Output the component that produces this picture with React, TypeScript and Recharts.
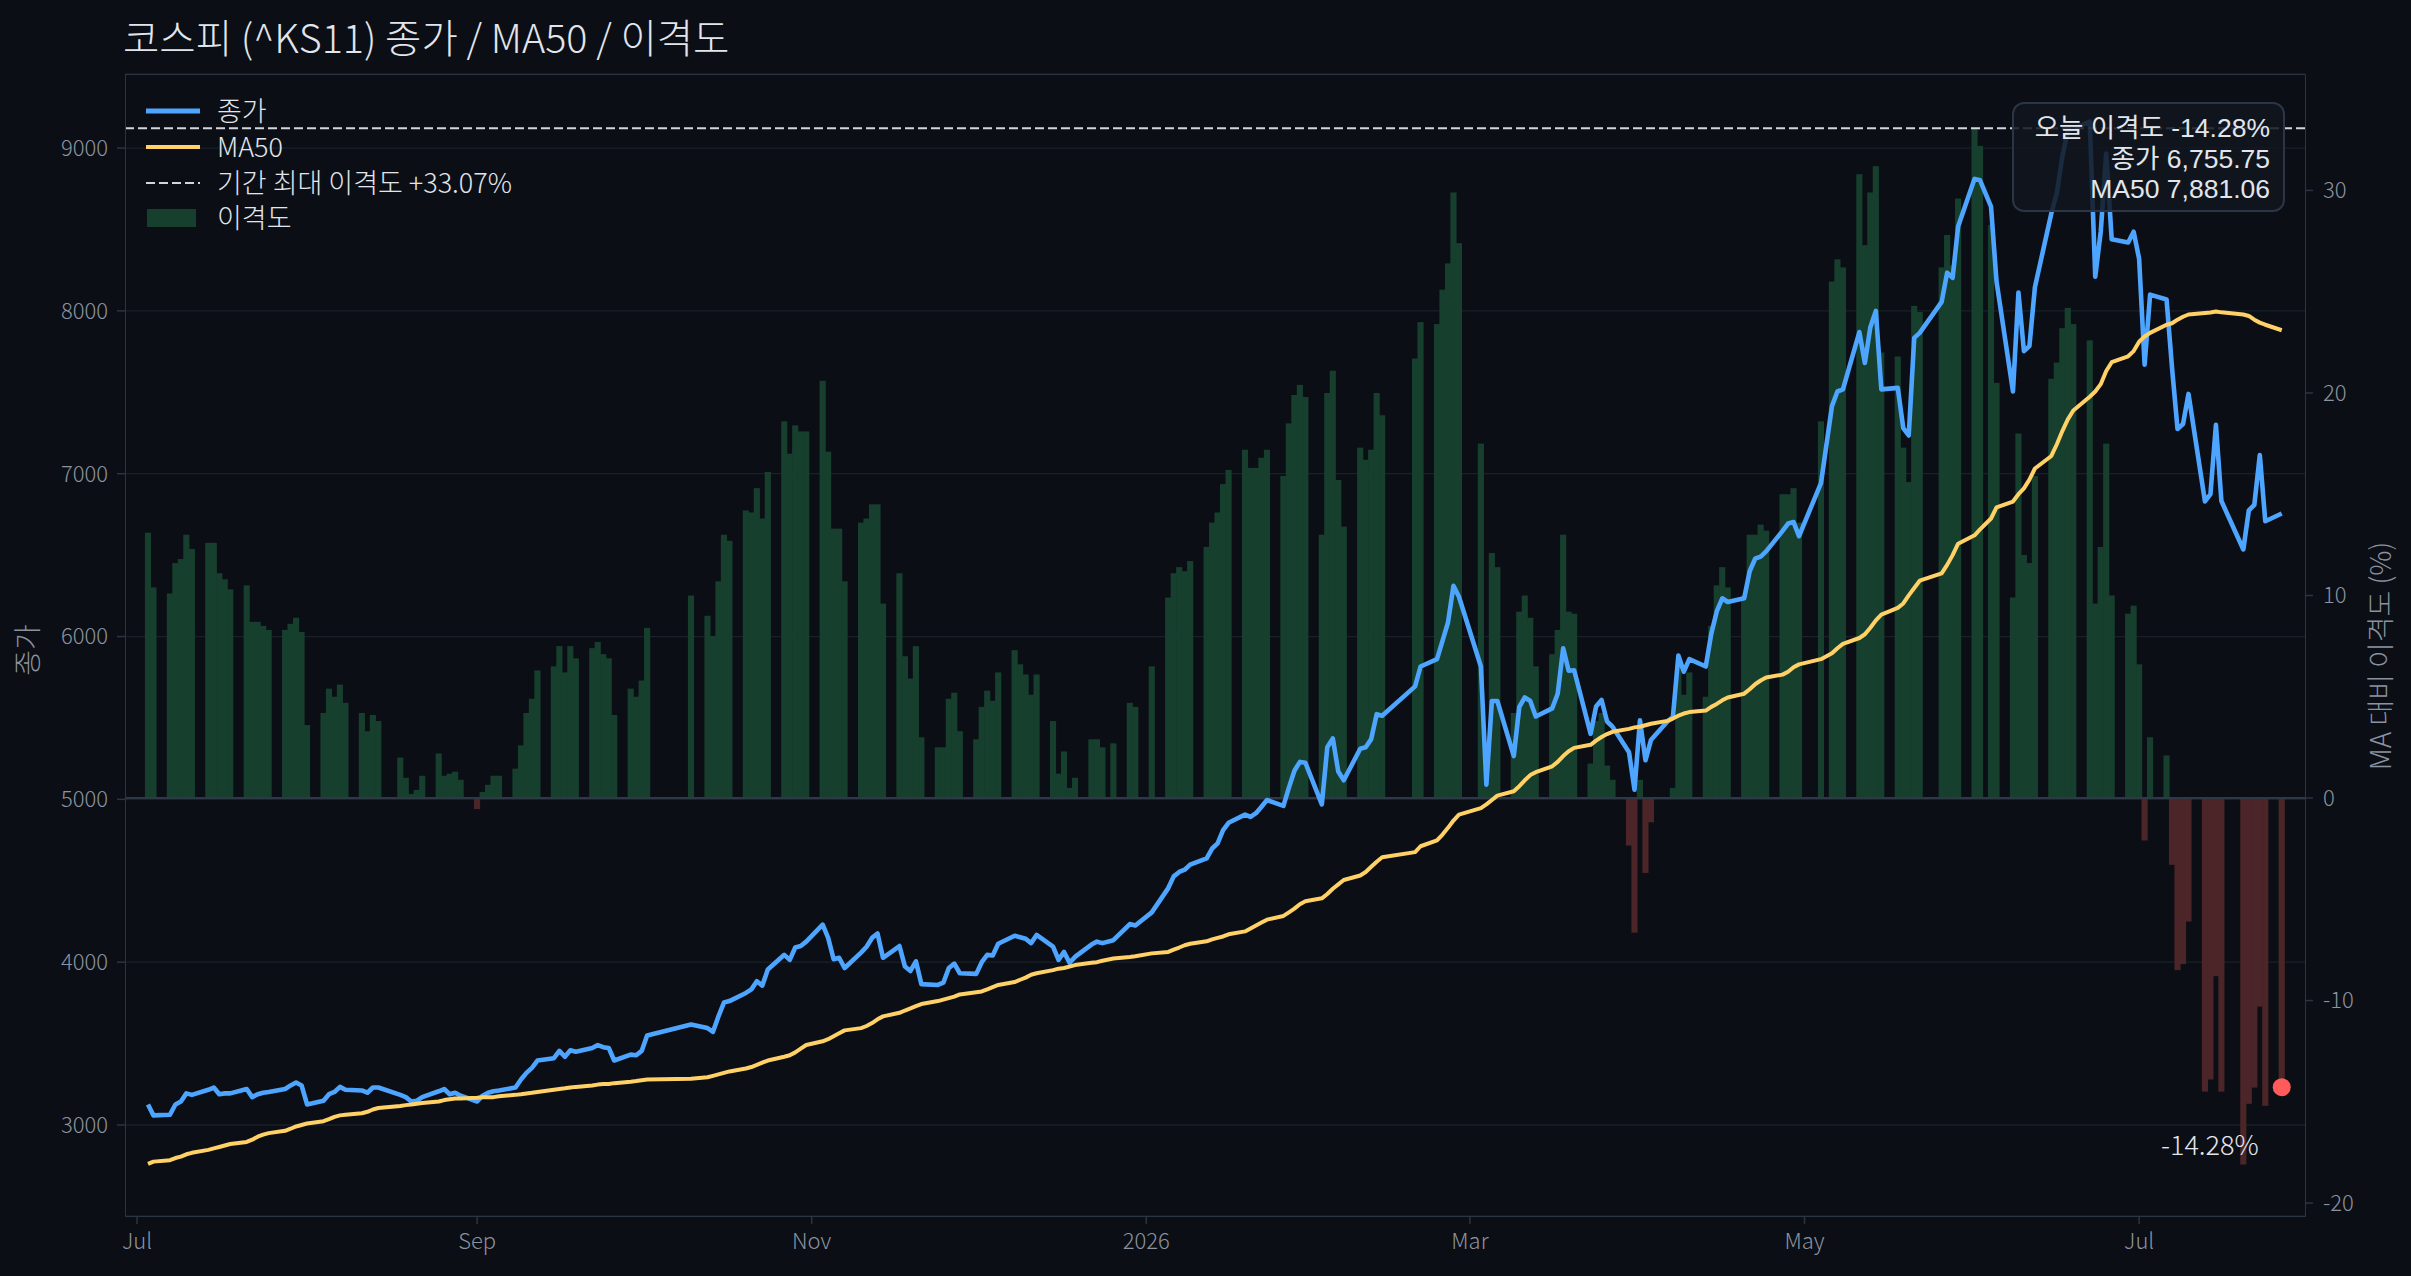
import React from "react"
import {
  ComposedChart,
  Bar,
  Line,
  XAxis,
  YAxis,
  CartesianGrid,
  ReferenceLine,
  ReferenceDot,
  Cell,
} from "recharts"

// trading days: weekdays from START to END, minus KRX holidays
const START = Date.UTC(2025, 6, 3)
const END = Date.UTC(2026, 6, 27)
const HOLIDAYS = [
  "2025-08-15", "2025-10-03", "2025-10-06", "2025-10-07", "2025-10-08", "2025-10-09",
  "2025-12-25", "2025-12-31", "2026-01-01", "2026-02-16", "2026-02-17", "2026-02-18",
  "2026-03-02", "2026-05-01", "2026-05-05", "2026-05-25", "2026-06-03", "2026-07-17",
]

// 종가
const CLOSE = [
  3126, 3059, 3063, 3126, 3144, 3194, 3185, 3216, 3230, 3189, 3194, 3194, 3221, 3171, 3189, 3198, 3203, 3221, 3243, 3261, 3243,
  3126, 3149, 3189, 3203, 3234, 3216, 3212, 3198, 3230, 3230, 3185, 3171, 3144, 3149, 3171, 3207, 3221, 3189, 3198, 3180,
  3144, 3180, 3198, 3207, 3212, 3230, 3279, 3320, 3351, 3396, 3410, 3455, 3419, 3459, 3450, 3473, 3491, 3478, 3473, 3396, 3432, 3428,
  3455, 3550, 3617, 3595, 3572, 3667, 3752, 3761, 3811, 3833, 3883, 3856, 3955, 4045, 4014, 4090, 4099, 4126,
  4230, 4149, 4018, 4027, 3964, 4059, 4095, 4149, 4176, 4027, 4099, 3973, 3946, 4005, 3865, 3860, 3874, 3964, 3991, 3932,
  3928, 4000, 4045, 4041, 4113, 4162, 4153, 4144, 4117, 4167, 4095, 4014, 4063, 3996, 4032, 4108, 4126, 4117, 4135, 4234, 4225,
  4306, 4455, 4527, 4554, 4568, 4599, 4637, 4698, 4730, 4811, 4856, 4906, 4892, 4915, 4955, 4996, 4960, 5072, 5176, 5230, 5225,
  4969, 5320, 5374, 5171, 5117, 5311, 5320, 5370, 5523, 5514, 5694, 5816, 5861, 5973, 6086, 6311, 6244,
  5816, 5090, 5604, 5604, 5266, 5568, 5626, 5604, 5509, 5559, 5649, 5928, 5790, 5793, 5402, 5570, 5610, 5478, 5446, 5290, 5059,
  5486, 5240, 5364, 5478, 5505, 5883, 5784, 5861, 5816, 6018, 6154, 6235, 6212, 6235, 6401, 6478, 6491, 6523, 6649, 6694, 6703, 6617,
  6942, 7415, 7505, 7518, 7870, 7680, 7900, 8000, 7518, 7527, 7280, 7235, 7834, 7865, 8055, 8235, 8203, 8519,
  8811, 8802, 8640, 8181, 7505, 8113, 7753, 7784, 8145, 8600, 8725, 8947, 9109, 9117, 9162, 8210, 8486, 8966, 8440, 8420, 8486,
  8320, 7670, 8100, 8070, 7650, 7275, 7305, 7490, 6830, 6875, 7300, 6832, 6535, 6775, 6808, 7115, 6708, 6755.75,
]

// MA50
const MA50 = [
  2761, 2775, 2784, 2797, 2806, 2820, 2829, 2847, 2856, 2865, 2874, 2883, 2896, 2910, 2928, 2941, 2950, 2964, 2977, 2991, 3000,
  3009, 3023, 3036, 3050, 3059, 3063, 3072, 3081, 3095, 3104, 3117, 3122, 3126, 3131, 3135, 3144, 3153, 3158, 3162, 3162,
  3167, 3171, 3171, 3171, 3176, 3185, 3189, 3194, 3198, 3203, 3216, 3221, 3225, 3230, 3234, 3243, 3248, 3252, 3252, 3257, 3266, 3270,
  3275, 3279, 3284, 3293, 3302, 3311, 3320, 3329, 3347, 3356, 3369, 3383, 3396, 3419, 3428, 3446, 3469, 3491,
  3514, 3527, 3545, 3563, 3581, 3595, 3608, 3626, 3649, 3667, 3689, 3703, 3716, 3730, 3743, 3761, 3770, 3779, 3788, 3802,
  3815, 3820, 3833, 3847, 3860, 3878, 3892, 3905, 3923, 3932, 3951, 3960, 3964, 3973, 3982, 3996, 4000, 4009, 4023, 4032, 4036,
  4054, 4063, 4077, 4090, 4104, 4113, 4128, 4140, 4149, 4158, 4171, 4189, 4207, 4225, 4243, 4261, 4284, 4306, 4329, 4356, 4374,
  4392, 4419, 4451, 4478, 4505, 4532, 4554, 4586, 4617, 4644, 4676, 4712, 4748, 4784, 4825, 4870, 4906,
  4946, 4969, 4996, 5023, 5050, 5081, 5117, 5149, 5167, 5203, 5230, 5266, 5295, 5316, 5335, 5361, 5383, 5401, 5415, 5433, 5442,
  5446, 5455, 5464, 5482, 5496, 5514, 5527, 5536, 5545, 5568, 5586, 5608, 5626, 5649, 5676, 5707, 5730, 5748, 5766, 5784, 5811, 5829,
  5861, 5897, 5928, 5955, 5991, 6014, 6054, 6099, 6135, 6176, 6203, 6253, 6298, 6343, 6388, 6440, 6500, 6570,
  6622, 6658, 6725, 6793, 6829, 6874, 6910, 6964, 7032, 7109, 7181, 7262, 7334, 7388, 7473, 7505, 7550, 7631, 7685, 7721, 7753,
  7811, 7843, 7865, 7915, 7924, 7946, 7964, 7978, 7987, 7990, 7996, 7991, 7978, 7969, 7946, 7928, 7915, 7881.06,
]

// 이격도 (%)
const GAP = [
  13.1, 10.4, 10.1, 11.6, 11.8, 13.0, 12.3, 12.6, 12.6, 11.1, 10.8, 10.3, 10.5, 8.7, 8.7, 8.5, 8.3, 8.3, 8.6, 8.9, 8.2,
  3.6, 4.2, 5.4, 5.0, 5.6, 4.7, 4.2, 3.3, 4.1, 3.8, 2.0, 1.0, 0.2, 0.4, 1.1, 2.2, 1.1, 1.2, 1.3, 0.9,
  -0.55, 0.3, 0.65, 1.1, 1.1, 1.45, 2.6, 4.2, 4.9, 6.3, 6.5, 7.5, 6.2, 7.5, 6.9, 7.4, 7.7, 7.1, 6.9, 4.1, 5.4, 5.0,
  5.8, 8.4, 10.0, 9.0, 8.0, 10.7, 13.0, 12.7, 14.2, 14.1, 15.3, 13.8, 16.1, 18.6, 17.0, 18.4, 18.1, 18.1,
  20.6, 17.1, 13.3, 13.3, 10.7, 13.6, 13.8, 14.5, 14.5, 9.6, 11.1, 7.0, 5.9, 7.5, 3.0, 2.5, 2.5, 4.9, 5.2, 3.3,
  2.9, 4.5, 5.3, 4.8, 6.2, 7.3, 6.6, 6.1, 5.1, 6.1, 3.8, 1.2, 2.3, 0.5, 1.0, 2.9, 2.9, 2.5, 2.7, 4.7, 4.5,
  6.5, 9.9, 11.1, 11.4, 11.2, 11.7, 12.4, 13.6, 14.1, 15.5, 16.2, 17.2, 16.3, 16.3, 16.8, 17.2, 15.9, 18.5, 19.9, 20.4, 19.8,
  13.0, 20.0, 21.1, 15.7, 13.4, 17.3, 16.7, 17.2, 20.0, 18.9, 21.7, 23.5, 23.4, 25.1, 26.4, 29.9, 27.4,
  17.5, 2.4, 12.1, 11.4, 4.2, 9.2, 10.0, 8.9, 6.5, 7.1, 8.3, 13.0, 9.2, 9.1, 1.7, 3.8, 4.2, 1.6, 0.9, -2.35, -6.65,
  0.9, -3.7, -1.2, 0.05, 0.5, 6.5, 5.1, 6.2, 5.0, 8.5, 10.5, 11.4, 10.4, 10.0, 13.0, 13.0, 13.5, 13.2, 15.0, 15.0, 15.3, 13.6,
  18.6, 25.5, 26.6, 26.2, 30.8, 27.3, 29.9, 31.2, 22.0, 21.8, 17.3, 15.6, 24.3, 24.0, 26.2, 27.8, 26.3, 29.6,
  33.07, 32.2, 28.3, 20.5, 9.9, 18.0, 12.0, 11.6, 15.9, 20.7, 21.5, 23.2, 24.2, 23.4, 22.6, 9.6, 12.4, 17.5, 10.0, 9.1, 9.5,
  6.6, -2.1, 3.0, 2.1, -3.3, -8.5, -8.2, -6.1, -14.5, -13.9, -8.8, -14.5, -18.1, -15.1, -14.3, -10.3, -15.2, -14.28,
]

const X_TICKS = [
  Date.UTC(2025, 6, 1), Date.UTC(2025, 8, 1), Date.UTC(2025, 10, 1), Date.UTC(2026, 0, 1),
  Date.UTC(2026, 2, 1), Date.UTC(2026, 4, 1), Date.UTC(2026, 6, 1),
]
const X_TICK_LABELS = ["Jul", "Sep", "Nov", "2026", "Mar", "May", "Jul"]
const PRICE_TICKS = [3000, 4000, 5000, 6000, 7000, 8000, 9000]
const GAP_TICKS = [-20, -10, 0, 10, 20, 30]

const DAY = 86400000
const X_DOMAIN = [Date.UTC(2025, 6, 1) - 2.19 * DAY, Date.UTC(2026, 6, 1) + 30.24 * DAY]
const PRICE_DOMAIN = [2441, 9455]
const GAP_DOMAIN = [-20.64, 35.75]

const FONT = '"Noto Sans CJK KR", "Noto Sans", sans-serif'
const BOX_FONT = '"Liberation Sans", "Noto Sans CJK KR", sans-serif'
const BG = "#0b0e14"
const GRID = "#1a2029"
const FRAME = "#2b3442"
const TICK_TEXT = "#8b93a0"
const TEXT = "#e2e6ec"
const BLUE = "#4ea5ff"
const YELLOW = "#ffd166"
const GREEN = "#173f2e"
const RED = "#4b2527"
const DASH = "#d2d6dc"

function tradingDays(): number[] {
  const out: number[] = []
  for (let t = START; t <= END; t += DAY) {
    const d = new Date(t)
    const wd = d.getUTCDay()
    if (wd === 0 || wd === 6) continue
    if (HOLIDAYS.includes(d.toISOString().slice(0, 10))) continue
    out.push(t)
  }
  return out
}

const DATES = tradingDays()
const n = Math.min(DATES.length, CLOSE.length, MA50.length, GAP.length)
const data = DATES.slice(0, n).map((t, i) => ({ t, close: CLOSE[i], ma: MA50[i], gap: GAP[i] }))
const last = data[data.length - 1]
const maxGap = Math.max(...GAP)

const fmt2 = (v: number) => v.toLocaleString("en-US", { minimumFractionDigits: 2, maximumFractionDigits: 2 })
const fmtPct = (v: number) => `${v >= 0 ? "+" : ""}${v.toFixed(2)}%`

const tickLabel = (v: number) => {
  const i = X_TICKS.indexOf(v)
  return i >= 0 ? X_TICK_LABELS[i] : ""
}

// bars touch their neighbours, so widen each one a hair to hide seams
const GapBar = (props: any) => {
  const { x, y, width, height, fill } = props
  if (x == null || y == null || !height) return null
  const top = height < 0 ? y + height : y
  return <rect x={x - 0.35} y={top} width={width + 0.7} height={Math.abs(height)} fill={fill} />
}

const DotLabel = (props: any) => {
  const vb = props.viewBox || { x: 0, y: 0, width: 0, height: 0 }
  const cx = vb.x + vb.width / 2
  const cy = vb.y + vb.height / 2
  return (
    <text x={cx - 23} y={cy + 56} textAnchor="end" dominantBaseline="central" fill={TEXT} fontSize={27} fontFamily={FONT} fontWeight={300}>
      {props.value}
    </text>
  )
}

const legendText: React.CSSProperties = {
  position: "absolute",
  left: 217,
  fontSize: 27,
  lineHeight: "30px",
  color: TEXT,
  whiteSpace: "nowrap",
}

const boxLine: React.CSSProperties = { height: 30.5, lineHeight: "30.5px" }

const tickStyle = { fill: TICK_TEXT, fontSize: 22, fontFamily: FONT, fontWeight: 300 }

export default function App() {
  return (
    <div style={{ position: "absolute", left: 0, top: 0, width: 2411, height: 1276, background: BG, fontFamily: FONT, fontWeight: 300, overflow: "hidden" }}>
      <div style={{ position: "absolute", left: 123, top: 14, fontSize: 39.5, lineHeight: "44px", color: TEXT, whiteSpace: "nowrap" }}>
        코스피 (^KS11) 종가 / MA50 / 이격도
      </div>

      <ComposedChart width={2411} height={1276} data={data} margin={{ top: 74, right: 0, bottom: 0, left: 0 }}>
        <CartesianGrid yAxisId="left" vertical={false} stroke={GRID} strokeWidth={1.3} />
        <XAxis
          dataKey="t"
          type="number"
          scale="linear"
          domain={X_DOMAIN}
          allowDataOverflow
          ticks={X_TICKS}
          interval={0}
          tickFormatter={tickLabel}
          height={60}
          axisLine={false}
          tickLine={{ stroke: FRAME, strokeWidth: 1.5 }}
          tickSize={8}
          tickMargin={9}
          tick={tickStyle}
        />
        <YAxis
          yAxisId="left"
          width={125}
          domain={PRICE_DOMAIN}
          allowDataOverflow
          ticks={PRICE_TICKS}
          interval={0}
          axisLine={false}
          tickLine={{ stroke: FRAME, strokeWidth: 1.5 }}
          tickSize={8}
          tickMargin={9}
          tick={tickStyle}
        />
        <YAxis
          yAxisId="right"
          orientation="right"
          width={106}
          domain={GAP_DOMAIN}
          allowDataOverflow
          ticks={GAP_TICKS}
          interval={0}
          axisLine={false}
          tickLine={{ stroke: FRAME, strokeWidth: 1.5 }}
          tickSize={8}
          tickMargin={10}
          tick={{ ...tickStyle, textAnchor: "start" }}
        />
        <ReferenceLine yAxisId="right" y={0} stroke="#2e3847" strokeWidth={2} />
        <Bar yAxisId="right" dataKey="gap" barSize={5.45} shape={GapBar} isAnimationActive={false}>
          {data.map((d) => (
            <Cell key={d.t} fill={d.gap >= 0 ? GREEN : RED} />
          ))}
        </Bar>
        <Line
          yAxisId="left"
          dataKey="close"
          stroke={BLUE}
          strokeWidth={4.6}
          dot={false}
          activeDot={false}
          strokeLinejoin="round"
          isAnimationActive={false}
        />
        <Line
          yAxisId="left"
          dataKey="ma"
          stroke={YELLOW}
          strokeWidth={4}
          dot={false}
          activeDot={false}
          strokeLinejoin="round"
          isAnimationActive={false}
        />
        <ReferenceLine yAxisId="right" y={maxGap} stroke={DASH} strokeWidth={2.2} strokeDasharray="9 4" />
        <ReferenceDot
          yAxisId="right"
          x={last.t}
          y={last.gap}
          r={9}
          fill="#ff5b5b"
          stroke="none"
          label={{ value: fmtPct(last.gap), content: DotLabel }}
        />
      </ComposedChart>

      {/* plot frame */}
      <div
        style={{
          position: "absolute",
          left: 124.5,
          top: 73.5,
          width: 2181,
          height: 1143,
          border: `1.5px solid ${FRAME}`,
          boxSizing: "border-box",
          pointerEvents: "none",
        }}
      />

      {/* axis titles */}
      <div style={{ position: "absolute", left: 26, top: 650, transform: "translate(-50%, -50%) rotate(-90deg)", fontSize: 28, color: TICK_TEXT, whiteSpace: "nowrap" }}>
        종가
      </div>
      <div style={{ position: "absolute", left: 2379, top: 656, transform: "translate(-50%, -50%) rotate(-90deg)", fontSize: 28, color: TICK_TEXT, whiteSpace: "nowrap" }}>
        MA 대비 이격도 (%)
      </div>

      {/* legend */}
      <svg width={70} height={240} style={{ position: "absolute", left: 140, top: 0, pointerEvents: "none" }}>
        <line x1={6} x2={60} y1={111} y2={111} stroke={BLUE} strokeWidth={5} />
        <line x1={6} x2={60} y1={147} y2={147} stroke={YELLOW} strokeWidth={4.2} />
        <line x1={6} x2={60} y1={183} y2={183} stroke={DASH} strokeWidth={2.2} strokeDasharray="9 4" />
        <rect x={7} y={209} width={49} height={18} fill={GREEN} />
      </svg>
      <div style={{ ...legendText, top: 95 }}>종가</div>
      <div style={{ ...legendText, top: 131 }}>MA50</div>
      <div style={{ ...legendText, top: 167 }}>기간 최대 이격도 {fmtPct(maxGap)}</div>
      <div style={{ ...legendText, top: 202 }}>이격도</div>

      {/* today annotation */}
      <div
        style={{
          position: "absolute",
          left: 2012,
          top: 102,
          width: 273,
          height: 110,
          boxSizing: "border-box",
          border: "2px solid #2c3545",
          borderRadius: 12,
          background: "rgba(17, 22, 31, 0.86)",
          paddingRight: 13,
          paddingTop: 9,
          textAlign: "right",
          color: TEXT,
          fontFamily: BOX_FONT,
          fontWeight: 400,
          fontSize: 26.5,
          whiteSpace: "nowrap",
        }}
      >
        <div style={boxLine}>오늘 이격도 {fmtPct(last.gap)}</div>
        <div style={boxLine}>종가 {fmt2(last.close)}</div>
        <div style={boxLine}>MA50 {fmt2(last.ma)}</div>
      </div>
    </div>
  )
}
